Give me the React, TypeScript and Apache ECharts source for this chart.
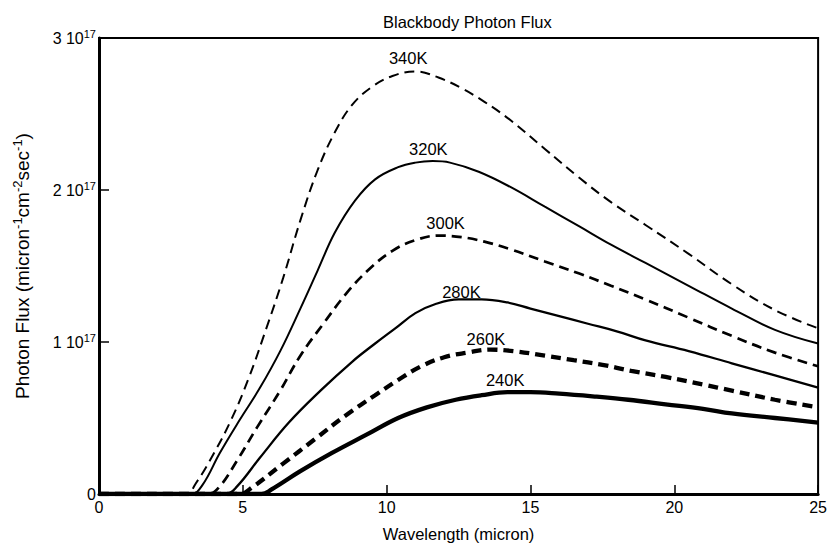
import React, { useEffect, useRef } from "react";
import * as echarts from "echarts";

// Wavelength (micron) and photon flux (units of 1e17 micron^-1 cm^-2 s^-1)
const wl340 = [0, 3.0, 3.4, 4.0, 4.6, 5.2, 5.8, 6.4, 7.0, 7.6, 8.2, 8.8, 9.5, 10.2, 11.0, 11.8, 12.6, 13.4, 14.3, 15.5, 16.7, 17.8, 19.0, 20.5, 22.0, 23.5, 25];
const flux340 = [0, 0, 0.08, 0.27, 0.49, 0.76, 1.08, 1.42, 1.8, 2.13, 2.38, 2.56, 2.68, 2.75, 2.78, 2.74, 2.67, 2.58, 2.46, 2.27, 2.08, 1.92, 1.77, 1.58, 1.38, 1.21, 1.09];

const wl320 = [0, 3.2, 3.6, 4.2, 4.9, 5.6, 6.3, 7.0, 7.6, 8.2, 8.9, 9.6, 10.4, 11.0, 11.6, 12.2, 13.2, 14.3, 15.5, 16.7, 17.8, 19.0, 20.5, 22.0, 23.5, 25];
const flux320 = [0, 0, 0.06, 0.27, 0.49, 0.7, 0.94, 1.22, 1.47, 1.72, 1.93, 2.07, 2.15, 2.18, 2.19, 2.18, 2.12, 2.02, 1.89, 1.76, 1.64, 1.52, 1.37, 1.22, 1.08, 0.99];

const wl300 = [0, 3.8, 4.2, 4.8, 5.5, 6.3, 7.0, 7.8, 8.6, 9.4, 10.2, 11.0, 11.8, 12.6, 13.4, 14.3, 15.5, 16.7, 17.8, 19.0, 20.5, 22.0, 23.5, 25];
const flux300 = [0, 0, 0.05, 0.22, 0.44, 0.68, 0.91, 1.12, 1.32, 1.48, 1.6, 1.67, 1.7, 1.69, 1.66, 1.61, 1.53, 1.45, 1.37, 1.28, 1.16, 1.04, 0.93, 0.84];

const wl280 = [0, 4.4, 4.8, 5.6, 6.6, 7.7, 8.8, 9.6, 10.3, 11.0, 11.7, 12.5, 13.3, 14.2, 15.0, 16.0, 17.0, 18.0, 19.0, 20.5, 22.0, 23.5, 25];
const flux280 = [0, 0, 0.05, 0.24, 0.47, 0.68, 0.87, 0.99, 1.09, 1.19, 1.25, 1.28, 1.28, 1.26, 1.22, 1.17, 1.12, 1.07, 1.01, 0.94, 0.86, 0.78, 0.7];

const wl260 = [0, 4.9, 5.3, 6.4, 7.5, 8.6, 9.6, 10.4, 11.2, 12.0, 12.8, 13.6, 14.4, 15.5, 16.5, 17.5, 18.5, 19.7, 21.0, 22.0, 23.5, 25];
const flux260 = [0, 0, 0.04, 0.2, 0.36, 0.52, 0.65, 0.75, 0.84, 0.9, 0.93, 0.95, 0.94, 0.91, 0.88, 0.85, 0.81, 0.77, 0.72, 0.68, 0.62, 0.57];

const wl240 = [0, 5.65, 6.0, 7.0, 8.1, 9.3, 10.4, 11.4, 12.4, 13.3, 14.2, 15.0, 16.0, 17.3, 18.4, 19.7, 21.0, 22.0, 23.5, 25];
const flux240 = [0, 0, 0.03, 0.15, 0.27, 0.39, 0.5, 0.57, 0.62, 0.65, 0.67, 0.67, 0.66, 0.64, 0.62, 0.59, 0.56, 0.53, 0.5, 0.47];

const curveNames = ["340K", "320K", "300K", "280K", "260K", "240K"];
// label anchor positions in data units [wavelength, flux/1e17]
const labelWl = [10.75, 11.45, 12.05, 12.6, 13.45, 14.12];
const labelFlux = [2.87, 2.27, 1.78, 1.33, 1.02, 0.75];

const SCALE = 1e17;

export default function App() {
  const ref = useRef<HTMLDivElement>(null);
  useEffect(() => {
    document.body.style.margin = "0";
    if (!ref.current) return;
    const chart = echarts.init(ref.current, null, { renderer: "svg" });
    const wls = [wl340, wl320, wl300, wl280, wl260, wl240];
    const fluxes = [flux340, flux320, flux300, flux280, flux260, flux240];
    const styles = [
      { type: [10, 6], width: 2 },
      { type: "solid", width: 2 },
      { type: [10, 6], width: 2.7 },
      { type: "solid", width: 2.3 },
      { type: [10, 6], width: 4.3 },
      { type: "solid", width: 4.3 },
    ];
    const font = "'Liberation Sans', Arial, Helvetica, sans-serif";
    const series = curveNames.map((name, i) => ({
      type: "line",
      name,
      data: wls[i].map((x, j) => [x, fluxes[i][j] * SCALE]),
      showSymbol: false,
      smooth: 0.4,
      lineStyle: { color: "#000", width: styles[i].width, type: styles[i].type as any },
      markPoint: {
        symbol: "circle",
        symbolSize: 0,
        data: [{ coord: [labelWl[i], labelFlux[i] * SCALE], value: name }],
        label: {
          show: true,
          position: "inside",
          formatter: name,
          color: "#000",
          fontSize: 16.5,
          fontFamily: font,
        },
      },
      z: 3,
    }));
    chart.setOption({
      animation: false,
      backgroundColor: "#fff",
      title: {
        text: "Blackbody Photon Flux",
        left: 378,
        top: 8,
        textStyle: { fontSize: 16.5, fontWeight: "normal", color: "#000", fontFamily: font },
      },
      grid: {
        left: 99,
        right: 8,
        top: 38,
        bottom: 56,
        show: true,
        borderColor: "#000",
        borderWidth: 2,
        containLabel: false,
      },
      xAxis: {
        type: "value",
        min: 0,
        max: 25,
        interval: 5,
        name: "Wavelength (micron)",
        nameLocation: "middle",
        nameGap: 31,
        nameTextStyle: { fontSize: 16.5, color: "#000", fontFamily: font },
        axisLine: { show: true, lineStyle: { color: "#000", width: 3 } },
        axisTick: { show: true, inside: true, length: 9, lineStyle: { color: "#000", width: 1.5 } },
        axisLabel: { color: "#000", fontSize: 16, margin: 5, fontFamily: font },
        splitLine: { show: false },
      },
      yAxis: {
        type: "value",
        min: 0,
        max: 3 * SCALE,
        interval: SCALE,
        name: "Photon Flux (micron{s|-1}cm{s|-2}sec{s|-1})",
        nameLocation: "middle",
        nameGap: 66,
        nameRotate: 90,
        nameTextStyle: {
          fontSize: 19,
          color: "#000",
          fontFamily: font,
          rich: {
            s: { fontSize: 13, color: "#000", fontFamily: font, padding: [0, 0, 9, 0] },
          },
        },
        axisLine: { show: true, lineStyle: { color: "#000", width: 3 } },
        axisTick: { show: true, inside: true, length: 10, lineStyle: { color: "#000", width: 1.5 } },
        axisLabel: {
          color: "#000",
          fontSize: 16,
          margin: 3,
          fontFamily: font,
          formatter: (v: number) => {
            const k = Math.round(v / SCALE);
            return k === 0 ? "{n|0}" : `{n|${k} 10}{s|17}`;
          },
          rich: {
            n: { fontSize: 16, color: "#000", fontFamily: font },
            s: { fontSize: 11, color: "#000", fontFamily: font, padding: [0, 0, 9, 0] },
          },
        },
        splitLine: { show: false },
      },
      series,
    });
    return () => chart.dispose();
  }, []);
  return <div ref={ref} style={{ width: 830, height: 550 }} />;
}
